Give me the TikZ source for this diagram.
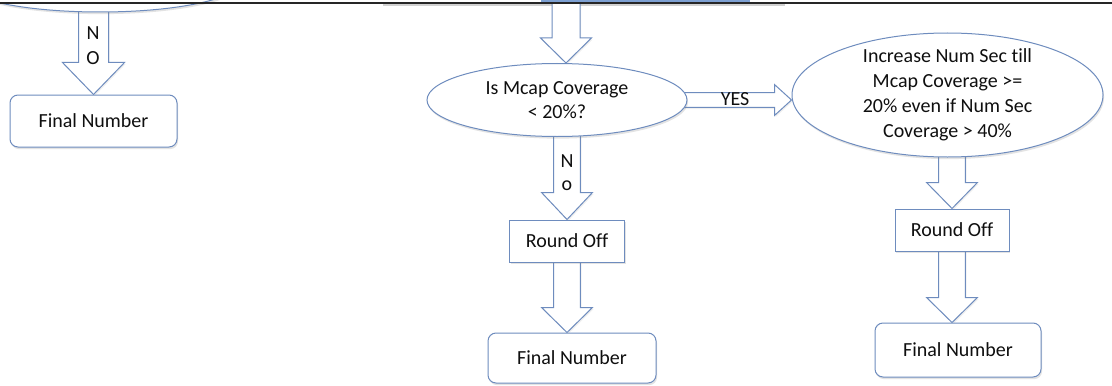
\documentclass[tikz,border=0pt]{standalone}
\usepackage{fontspec}
\setmainfont{Carlito}[Ligatures=NoCommon]
\usetikzlibrary{shapes.geometric,shadows,backgrounds,calc}
\definecolor{edge}{RGB}{110,140,190}
\definecolor{ink}{RGB}{15,15,15}
\definecolor{topblue}{RGB}{125,160,210}
\tikzset{
  every node/.style={font=\fontsize{15}{18.75}\selectfont, text=ink},
  box/.style={draw=edge, fill=white, line width=0.75pt, inner sep=0pt,
    drop shadow={opacity=0.22, shadow xshift=0.8pt, shadow yshift=-1.6pt}},
  rbox/.style={box, rounded corners=6pt},
  ell/.style={box, ellipse},
  blk/.style={draw=edge, fill=white, line width=0.75pt, line join=miter,
    drop shadow={opacity=0.12, shadow xshift=0.8pt, shadow yshift=-1.2pt}},
  lbl/.style={inner sep=0pt}
}
\newcommand\blkdown[5]{%
  \draw[blk] let \p1=#1, \p2=#2 in
    (\x1-#3,\y1) -- (\x1-#3,\y2+#5) -- (\x1-#4,\y2+#5) -- (\x1,\y2)
    -- (\x1+#4,\y2+#5) -- (\x1+#3,\y2+#5) -- (\x1+#3,\y1) -- cycle;}
\newcommand\blkright[5]{%
  \draw[blk] let \p1=#1, \p2=#2 in
    (\x1,\y1+#3) -- (\x2-#5,\y1+#3) -- (\x2-#5,\y1+#4) -- (\x2,\y1)
    -- (\x2-#5,\y1-#4) -- (\x2-#5,\y1-#3) -- (\x1,\y1-#3) -- cycle;}
\begin{document}
\begin{tikzpicture}[x=0.75pt, y=-0.75pt]
\useasboundingbox (0,0) rectangle (1112,385);
\clip (0,0) rectangle (1112,385);
\begin{scope}[on background layer]
  \fill[white] (0,0) rectangle (1112,385);
  \draw[black!18, line width=1.6pt] (383,5) -- (785,5);
\end{scope}

% left column
\node[ell, minimum width=210pt, minimum height=45pt] (ell0) at (100,-18) {};
\node[rbox, minimum width=125.25pt, minimum height=39pt] (fn1) at (93.5,121) {Final Number};

% centre column
\coordinate (top1) at (566,0);
\node[ell, minimum width=195pt, minimum height=54.75pt] (ell1) at (557,100) {};
\node[lbl, align=center, font=\fontsize{15}{18}\selectfont] (t1) at (ell1) {Is Mcap Coverage\\< 20\%?};
\node[box, minimum width=86.25pt, minimum height=31.5pt] (ro1) at (567,241) {Round Off};
\node[rbox, minimum width=126pt, minimum height=37.5pt] (fn2) at (572,358) {Final Number};

% right column
\node[ell, minimum width=233.25pt, minimum height=93pt] (ell2) at (947.5,95) {};
\node[lbl, align=center] (t2) at (ell2) {Increase Num Sec till\\Mcap Coverage >=\\20\% even if Num Sec\\Coverage > 40\%};
\node[box, minimum width=85.5pt, minimum height=31.5pt] (ro2) at (952,230) {Round Off};
\node[rbox, minimum width=124.5pt, minimum height=40.5pt] (fn3) at (958,350) {Final Number};

% block arrows
\begin{scope}[on background layer]
  \blkdown{(fn1 |- ell0.center)}{(fn1.north)}{11.25pt}{23.25pt}{24pt}
  \blkdown{(top1)}{(ell1.north -| top1)}{10.5pt}{19.1pt}{18.75pt}
  \blkdown{(ro1 |- ell1.center)}{(ro1.north)}{10.1pt}{19.1pt}{20.25pt}
  \blkdown{(ro1.center)}{(ro1 |- fn2.north)}{10.1pt}{19.1pt}{18.75pt}
  \blkdown{(ro2 |- ell2.center)}{(ro2.north)}{10.1pt}{19.1pt}{19.5pt}
  \blkdown{(ro2.center)}{(ro2 |- fn3.north)}{10.1pt}{19.1pt}{18.75pt}
  \blkright{(ell1.center)}{(ell2.west |- ell1.center)}{5.6pt}{11.6pt}{12.75pt}
\end{scope}

% arrow labels
\node[lbl] (n0) at (93,33.5) {N};
\node[lbl] (o0) at (93,58.5) {O};
\node[lbl] (n1) at (567,161) {N};
\node[lbl] (o1) at (567,186) {o};
\node[lbl] (yes) at (735,99) {YES};

% top edge of the screenshot
\fill[topblue] (541,0) rectangle (750,2);
\draw[black!85, line width=1.1pt] (0,2.8) -- (1112,2.8);
\end{tikzpicture}
\end{document}
